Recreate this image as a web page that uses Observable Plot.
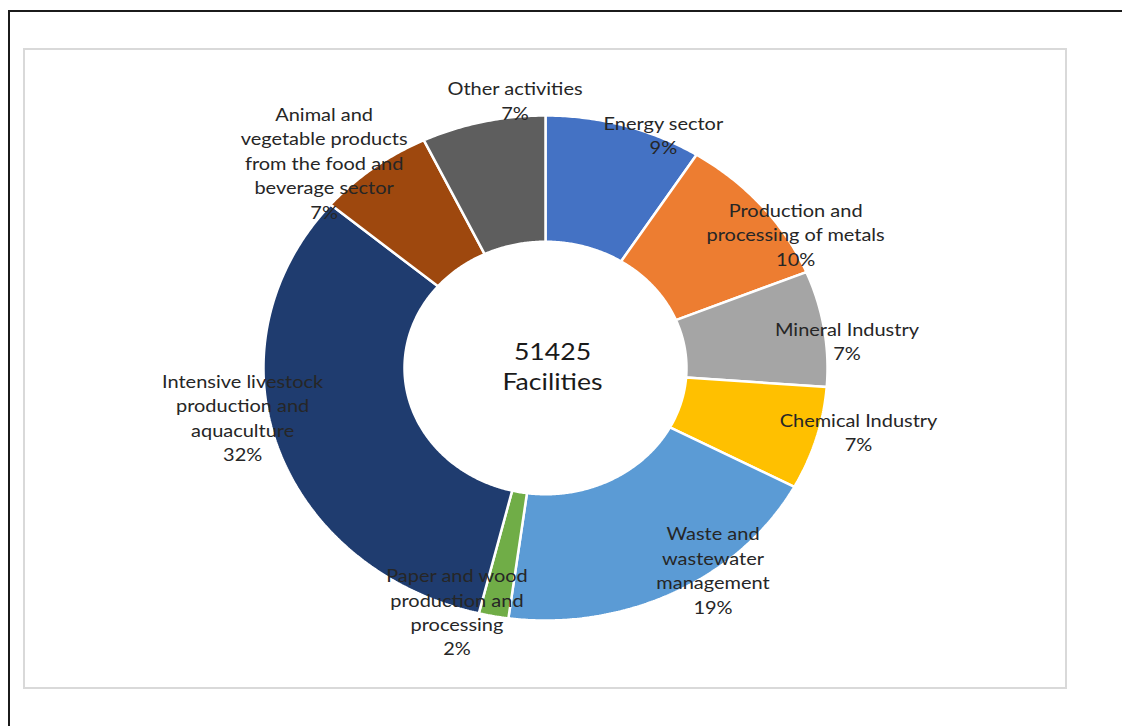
<!DOCTYPE html>
<html><head><meta charset="utf-8">
<script src="https://cdn.jsdelivr.net/npm/d3@7"></script>
<script src="https://cdn.jsdelivr.net/npm/@observablehq/plot@0.6"></script>
<style>
html,body{margin:0;padding:0;background:#fff;width:1122px;height:726px;overflow:hidden;}
#outer{position:absolute;left:8px;top:10px;width:1200px;height:800px;border-left:2px solid #1b1b1b;border-top:2px solid #1b1b1b;}
#panel{position:absolute;left:23px;top:48px;width:1040px;height:637px;border:2px solid #d9d9d9;}
#chart{position:absolute;left:0;top:0;}
</style></head><body>
<div id="outer"></div><div id="panel"></div><div id="chart"></div>
<script>
// ---- data ----
const categories = [
  "Energy sector",
  "Production and processing of metals",
  "Mineral Industry",
  "Chemical Industry",
  "Waste and wastewater management",
  "Paper and wood production and processing",
  "Intensive livestock production and aquaculture",
  "Animal and vegetable products from the food and beverage sector",
  "Other activities"
];
const shares = [9.0, 9.8, 7.4, 6.6, 19.3, 1.7, 32.4, 6.7, 7.1];
const labelNames = [
  "Energy sector",
  "Production and\nprocessing of metals",
  "Mineral Industry",
  "Chemical Industry",
  "Waste and\nwastewater\nmanagement",
  "Paper and wood\nproduction and\nprocessing",
  "Intensive livestock\nproduction and\naquaculture",
  "Animal and\nvegetable products\nfrom the food and\nbeverage sector",
  "Other activities"
];
const colors = ["#4472C4","#ED7D31","#A5A5A5","#FFC000","#5B9BD5","#70AD47","#1F3C6F","#9E480E","#5E5E5E"];
const totalFacilities = 51425;
const centerCaption = "Facilities";

// ---- layout (label anchor points in ring units) ----
const labelX = [0.418, 0.887, 1.069, 1.110, 0.594, -0.314, -1.074, -0.785, -0.108];
const labelY = [0.927, 0.533, 0.111, -0.250, -0.796, -0.962, -0.192, 0.816, 1.063];
const innerRadius = 0.5, outerRadius = 1;
const textStretch = 1.11;

const total = d3.sum(shares);
let acc = 0;
const ringPts = [];
categories.forEach((c, i) => {
  const a0 = acc / total * 2 * Math.PI;
  acc += shares[i];
  const a1 = acc / total * 2 * Math.PI;
  const n = Math.max(6, Math.ceil((a1 - a0) / (Math.PI / 360)));
  const pts = [];
  for (let k = 0; k <= n; k++) { const a = a0 + (a1 - a0) * k / n; pts.push([outerRadius * Math.sin(a), outerRadius * Math.cos(a)]); }
  for (let k = n; k >= 0; k--) { const a = a0 + (a1 - a0) * k / n; pts.push([innerRadius * Math.sin(a), innerRadius * Math.cos(a)]); }
  pts.push(pts[0]);
  pts.forEach(p => ringPts.push({c, x: p[0], y: p[1]}));
});

const labels = categories.map((c, i) => ({
  c, x: labelX[i], y: labelY[i],
  text: labelNames[i] + "\n" + Math.round(shares[i] / total * 100) + "%"
}));

const chart = Plot.plot({
  width: 1122, height: 726, margin: 0,
  x: {domain: [-1, 1], range: [263, 827], axis: null},
  y: {domain: [-1, 1], range: [620, 115], axis: null},
  color: {domain: categories, range: colors},
  style: {fontFamily: "Lato, 'Open Sans', sans-serif", background: "transparent"},
  marks: [
    Plot.line(ringPts, {x: "x", y: "y", z: "c", fill: "c", stroke: "white", strokeWidth: 2.5, strokeLinejoin: "miter", curve: "linear"}),
    Plot.text([{x: 0, y: 0, t: totalFacilities + "\n" + centerCaption}], {x: "x", y: "y", text: "t", dx: 7, dy: -3, fontSize: 24, lineHeight: 1.25, fill: "#1a1a1a"}),
    Plot.text(labels, {x: "x", y: "y", text: "text", fontSize: 18, lineHeight: 1.36, fill: "#262626"})
  ]
});
// the reference's lettering is horizontally stretched (like its ellipse)
d3.select(chart).selectAll("text").each(function () {
  const t = this.getAttribute("transform") || "";
  this.setAttribute("transform", t + ` scale(${textStretch},1)`);
});
document.getElementById("chart").appendChild(chart);
</script>
</body></html>
